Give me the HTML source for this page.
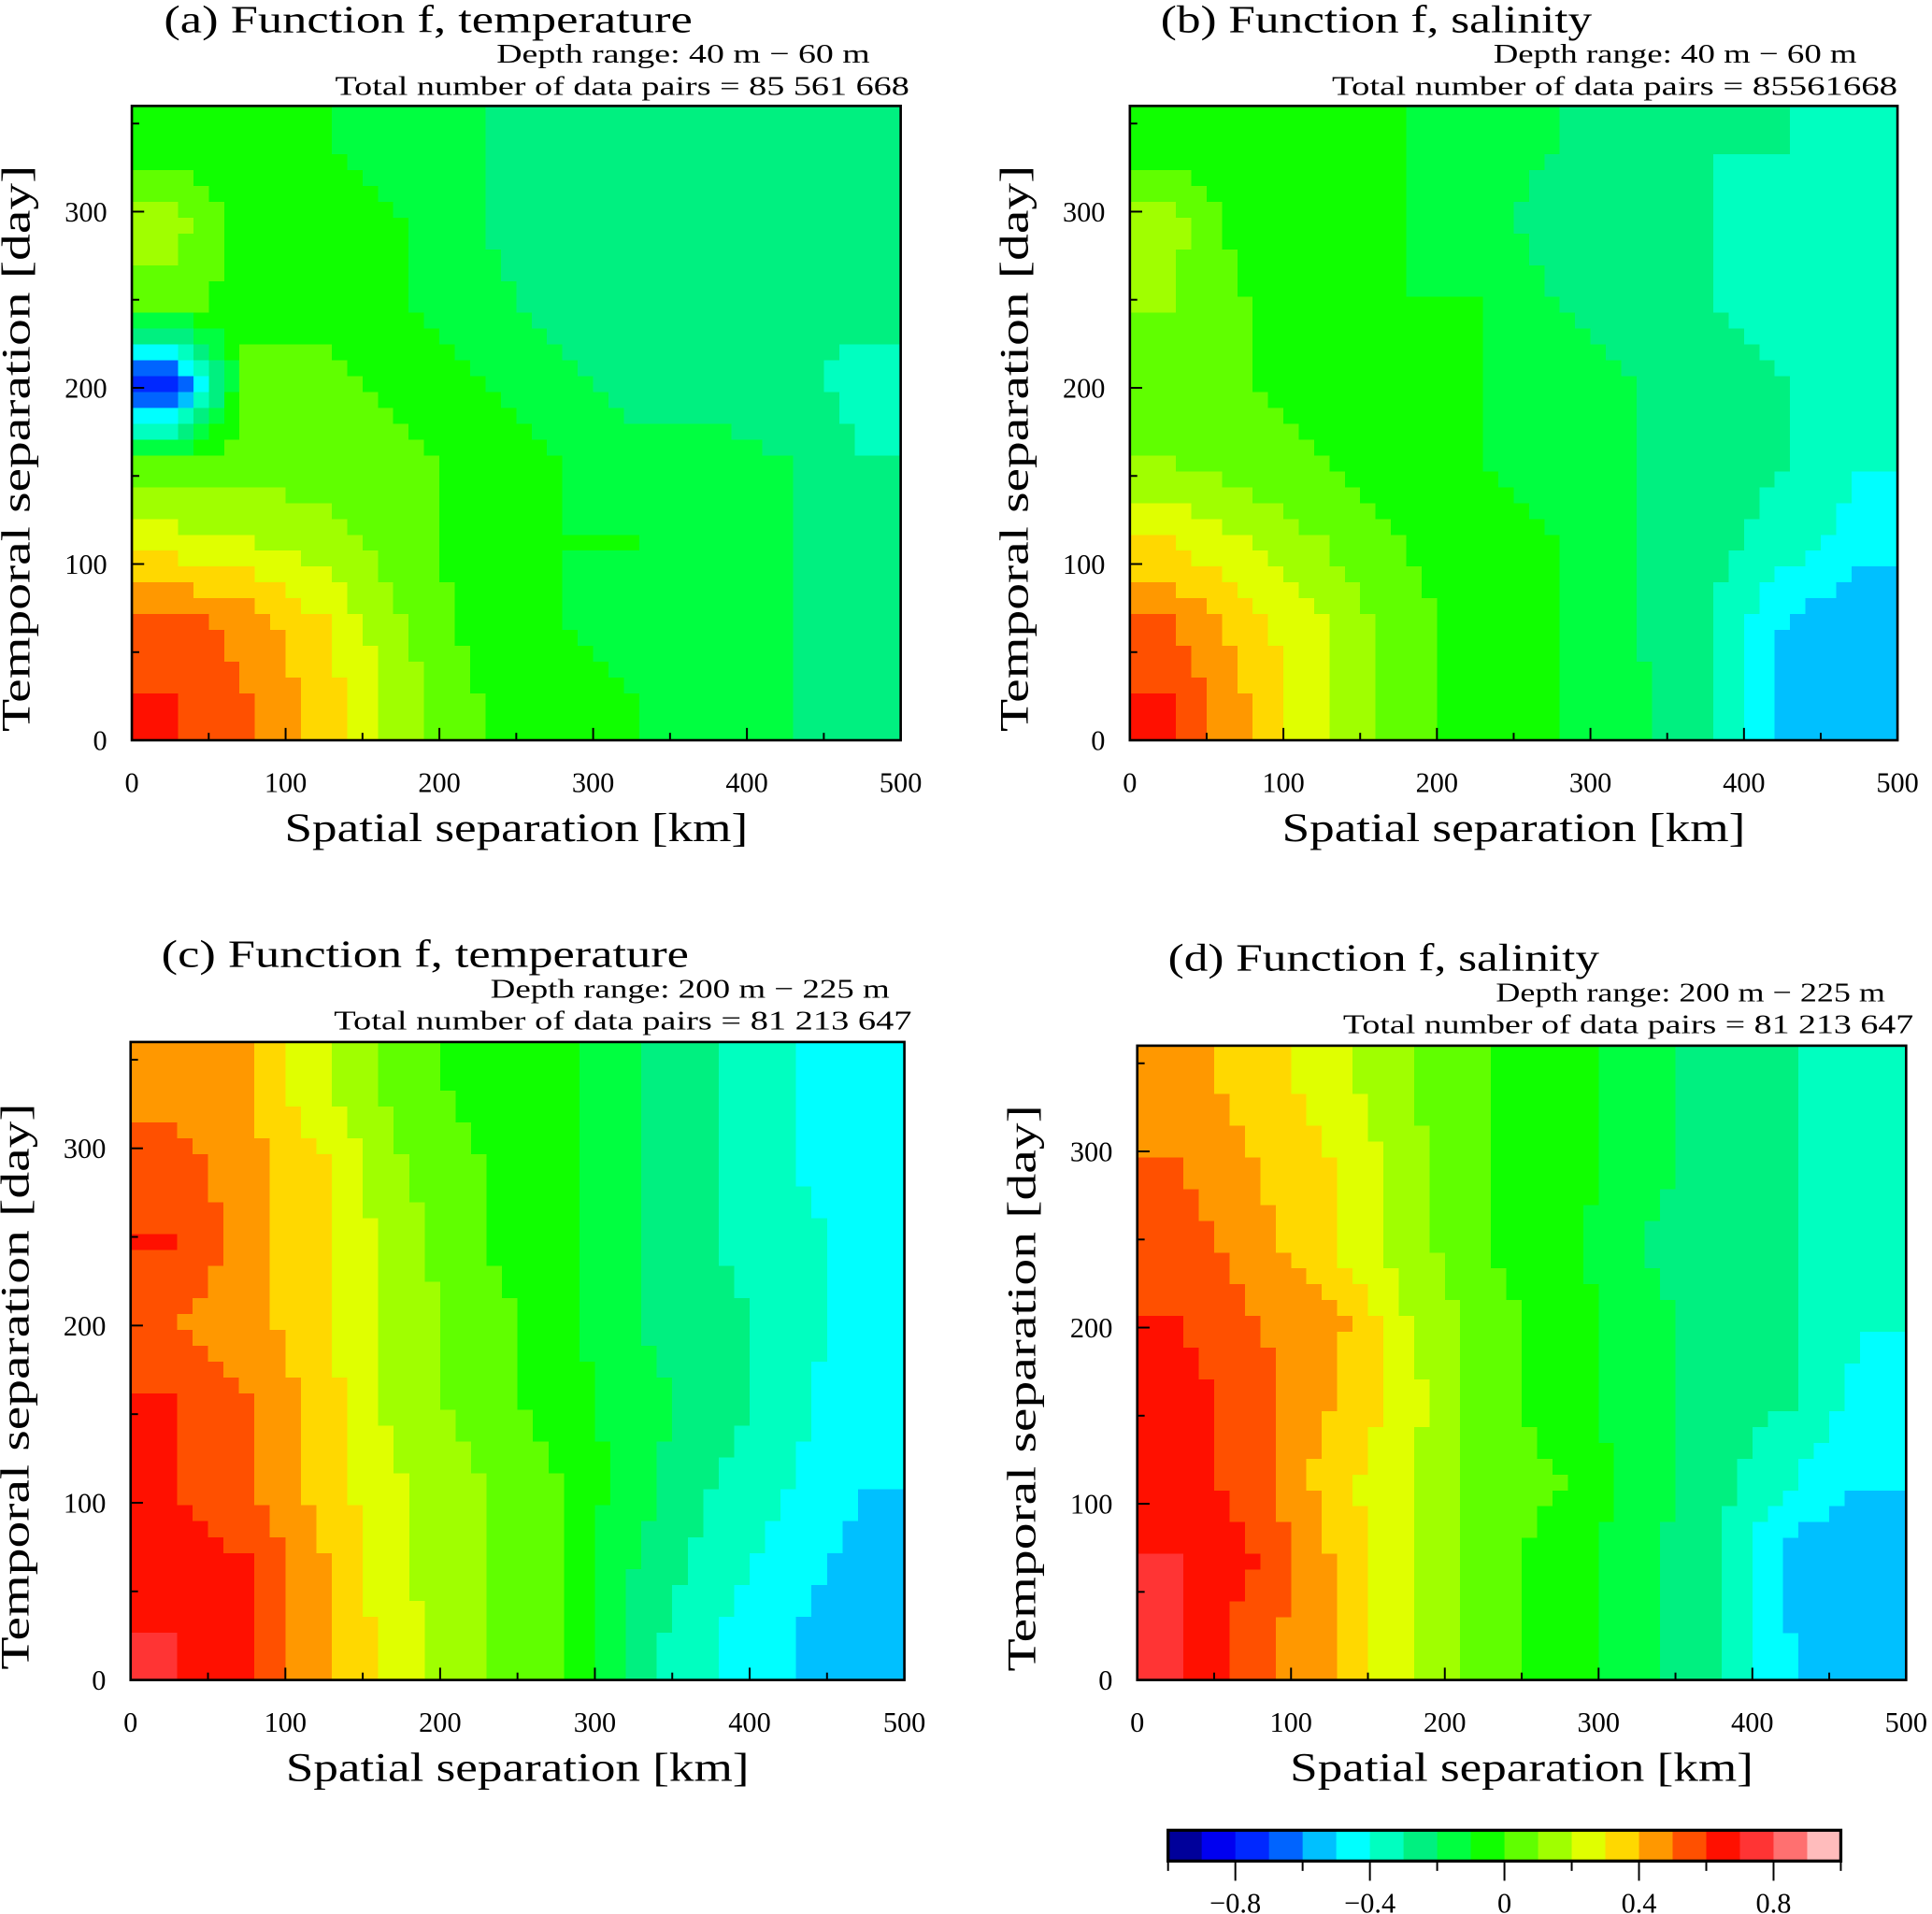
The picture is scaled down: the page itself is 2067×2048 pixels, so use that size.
<!DOCTYPE html>
<html><head><meta charset="utf-8"><style>
html,body{margin:0;padding:0;background:#fff}
svg{display:block}
text{font-family:"Liberation Serif",serif;fill:#000}
</style></head><body>
<svg id="fig" width="2067" height="2048" viewBox="0 0 1568 1554" preserveAspectRatio="none" xmlns="http://www.w3.org/2000/svg"></svg>
<script>
// ---- data ----
const xTicks = [0,100,200,300,400,500];
const yTicks = [0,100,200,300];
const cbTicks = [-0.8,-0.4,0,0.4,0.8];
const cbColors = ["#00009a","#0000f0","#0028ff","#0064ff","#00c0ff","#00ffff","#00ffc0","#00f080","#00ff40","#10ff00","#60ff00","#a0ff00","#e0ff00","#ffd800","#ff9800","#ff5000","#ff1000","#ff3434","#ff7070","#ffbcbc"];
// rows from top (315-360 days) to bottom (0-45 days), columns 0-50 ... 450-500 km
const gridA = [
[-0.05,-0.05,-0.1,-0.15,-0.2,-0.25,-0.3,-0.3,-0.3,-0.25],
[0.15,-0.05,-0.05,-0.1,-0.2,-0.25,-0.3,-0.3,-0.3,-0.25],
[0.05,-0.05,-0.05,-0.1,-0.15,-0.25,-0.25,-0.3,-0.3,-0.25],
[-0.8,0.05,0.05,-0.05,-0.1,-0.15,-0.25,-0.25,-0.25,-0.35],
[0,0.05,0.05,0.05,-0.05,-0.1,-0.15,-0.15,-0.2,-0.3],
[0.25,0.2,0.15,0.05,-0.05,-0.1,-0.1,-0.15,-0.2,-0.25],
[0.55,0.45,0.3,0.1,-0.05,-0.1,-0.15,-0.15,-0.2,-0.25],
[0.6,0.5,0.35,0.15,0,-0.05,-0.1,-0.15,-0.2,-0.3]];
const gridB = [
[-0.05,-0.05,-0.1,-0.1,-0.15,-0.2,-0.25,-0.3,-0.3,-0.35],
[0.15,-0.05,-0.1,-0.1,-0.15,-0.25,-0.3,-0.3,-0.35,-0.35],
[0.1,0,-0.05,-0.1,-0.1,-0.2,-0.25,-0.3,-0.35,-0.35],
[0,0,-0.05,-0.05,-0.1,-0.15,-0.2,-0.25,-0.3,-0.35],
[0.1,0.05,0,-0.05,-0.1,-0.15,-0.2,-0.25,-0.3,-0.4],
[0.3,0.2,0.1,0,-0.05,-0.1,-0.2,-0.25,-0.35,-0.45],
[0.5,0.35,0.2,0.05,-0.05,-0.1,-0.2,-0.3,-0.5,-0.6],
[0.6,0.4,0.2,0.05,-0.05,-0.1,-0.15,-0.3,-0.55,-0.6]];
const gridC = [
[0.45,0.4,0.2,0.05,-0.05,-0.05,-0.2,-0.3,-0.4,-0.5],
[0.55,0.45,0.3,0.1,0,-0.05,-0.2,-0.3,-0.4,-0.45],
[0.6,0.45,0.3,0.15,0,-0.05,-0.2,-0.3,-0.35,-0.45],
[0.5,0.45,0.3,0.15,0.05,-0.05,-0.2,-0.25,-0.35,-0.45],
[0.6,0.5,0.35,0.15,0.05,-0.05,-0.15,-0.25,-0.35,-0.5],
[0.6,0.5,0.35,0.2,0.1,0,-0.15,-0.3,-0.4,-0.5],
[0.65,0.6,0.4,0.2,0.1,0,-0.2,-0.35,-0.45,-0.55],
[0.7,0.6,0.4,0.25,0.1,0,-0.25,-0.4,-0.5,-0.55]];
const gridD = [
[0.45,0.35,0.25,0.1,0,-0.05,-0.15,-0.25,-0.3,-0.4],
[0.5,0.4,0.3,0.15,0,-0.05,-0.15,-0.25,-0.3,-0.35],
[0.55,0.45,0.3,0.15,0,-0.05,-0.2,-0.25,-0.3,-0.4],
[0.6,0.5,0.45,0.2,0.05,-0.05,-0.15,-0.25,-0.3,-0.4],
[0.65,0.55,0.4,0.25,0.05,-0.05,-0.15,-0.25,-0.3,-0.45],
[0.65,0.55,0.35,0.2,0.05,0,-0.15,-0.25,-0.4,-0.5],
[0.7,0.6,0.4,0.2,0.05,-0.05,-0.15,-0.3,-0.55,-0.6],
[0.7,0.55,0.4,0.2,0.05,-0.05,-0.15,-0.3,-0.5,-0.55]];

const NS="http://www.w3.org/2000/svg";
const svg=document.getElementById('fig');
function mk(tag,attrs,parent){const e=document.createElementNS(NS,tag);for(const k in attrs)e.setAttribute(k,attrs[k]);(parent||svg).appendChild(e);return e;}
function txt(s,x,y,size,anchor,parent,len){const a={x:x,y:y,'font-size':size,'text-anchor':anchor||'start'};if(len){a.textLength=len;a.lengthAdjust='spacingAndGlyphs';}const t=mk('text',a,parent);t.textContent=s;return t;}
function colorOf(v){let i=Math.floor((v+1)/0.1+1e-9);i=Math.max(0,Math.min(19,i));return cbColors[i];}

function panel(id,grid,box,L){
  const g=mk('g',{});
  
  
  const [x0,y0,x1,y1]=box;
  const sx=v=>x0+(v/500)*(x1-x0);
  const sy=v=>y1-(v/360)*(y1-y0);
  const rows=grid.length, cols=grid[0].length;
  const val=(r,c)=>grid[Math.max(0,Math.min(rows-1,r))][Math.max(0,Math.min(cols-1,c))];
  const sub=5, dx=500/cols/sub, dy=360/rows/sub;
  const hm=mk('g',{'shape-rendering':'crispEdges'},g);
  
  
  for(let i=0;i<cols*sub;i++){for(let j=0;j<rows*sub;j++){
    const xv=(i+0.5)*dx, yv=(j+0.5)*dy;
    const fc=xv/(500/cols)-0.5, fr=(360-yv)/(360/rows)-0.5;
    const c0=Math.floor(fc), r0=Math.floor(fr), tx=fc-c0, ty=fr-r0;
    const v=(1-tx)*(1-ty)*val(r0,c0)+tx*(1-ty)*val(r0,c0+1)+(1-tx)*ty*val(r0+1,c0)+tx*ty*val(r0+1,c0+1);
    const rx=sx(i*dx), ry=sy((j+1)*dy);
    const cell=mk('rect',{x:rx,y:ry,width:sx((i+1)*dx)-rx+0.6,height:sy(j*dy)-ry+0.6,fill:colorOf(v)},hm);
    
    
  }}
  mk('rect',{x:x0,y:y0,width:x1-x0,height:y1-y0,fill:'none',stroke:'#000','stroke-width':2},g);
  for(let v=0;v<=500;v+=50){const Lt=(v%100===0)?10:6;
    mk('line',{x1:sx(v),x2:sx(v),y1:y1,y2:y1-Lt,stroke:'#000','stroke-width':1.5},g);}
  xTicks.forEach(v=>{const t=txt(String(v),sx(v),y1+42,23,'middle',g);
    
    });
  for(let v=0;v<=350;v+=50){const Lt=(v%100===0)?10:6;
    mk('line',{x1:x0,x2:x0+Lt,y1:sy(v),y2:sy(v),stroke:'#000','stroke-width':1.5},g);}
  yTicks.forEach(v=>{const t=txt(String(v),x0-20,sy(v)+8,23,'end',g);
    
    });
  const xt=txt('Spatial separation [km]',(x0+x1)/2,y1+82,33,'middle',g,376);
  
  
  const cy=(y0+y1)/2+(y1-y0)*0.04;
  const yt=txt('Temporal separation [day]',0,0,33,'middle',g,460);
  yt.setAttribute('transform','translate('+(x0-83)+','+cy+') rotate(-90)');
  
  
  const tt=txt(L.t,L.tx,L.ty,31,'start',g,L.tw);
  
  
  const d=txt(L.d,L.dx,L.ty+25,22,'end',g,L.dw);
  
  
  const n=txt(L.n,L.nx,L.ty+51,22,'end',g,L.nw);
  
  
}
panel('a',gridA,[107,86,731,601],{t:'(a) Function f, temperature',tx:133,ty:26,tw:429,d:'Depth range:   40 m \u2212 60 m',dx:706,dw:303,n:'Total number of data pairs = 85 561 668',nx:738,nw:466});
panel('b',gridB,[917,86,1540,601],{t:'(b) Function f, salinity',tx:942,ty:26,tw:350,d:'Depth range:   40 m \u2212 60 m',dx:1507,dw:295,n:'Total number of data pairs =  85561668',nx:1540,nw:459});
panel('c',gridC,[106,846,734,1364],{t:'(c) Function f, temperature',tx:131,ty:785,tw:428,d:'Depth range:   200 m \u2212 225 m',dx:722,dw:324,n:'Total number of data pairs = 81 213 647',nx:740,nw:469});
panel('d',gridD,[923,849,1547,1364],{t:'(d) Function f, salinity',tx:948,ty:788,tw:350,d:'Depth range:   200 m \u2212 225 m',dx:1530,dw:316,n:'Total number of data pairs = 81 213 647',nx:1553,nw:463});

// colorbar
const cb=mk('g',{});


const cbx0=948, cbx1=1494, cby0=1486, cby1=1511;
const cx=v=>cbx0+(v+1)/2*(cbx1-cbx0);
cbColors.forEach((c,i)=>{const r=mk('rect',{x:cx(-1+i*0.1),y:cby0,width:cx(-0.9+i*0.1)-cx(-1+i*0.1)+0.5,height:cby1-cby0,fill:c},cb);
  
  });
mk('rect',{x:cbx0,y:cby0,width:cbx1-cbx0,height:cby1-cby0,fill:'none',stroke:'#000','stroke-width':2.5},cb);
for(let k=0;k<=10;k++){const v=-1+k*0.2;const major=(k%2===1);
  mk('line',{x1:cx(v),x2:cx(v),y1:cby1,y2:cby1+(major?16:8),stroke:'#000','stroke-width':1.5},cb);}
cbTicks.forEach(v=>{const s=(v<0?'\u2212':'')+(Math.abs(v)===0?'0':String(Math.abs(v)));
  const t=txt(s,cx(v),1553,23,'middle',cb);
  
  });
</script>
</body></html>
